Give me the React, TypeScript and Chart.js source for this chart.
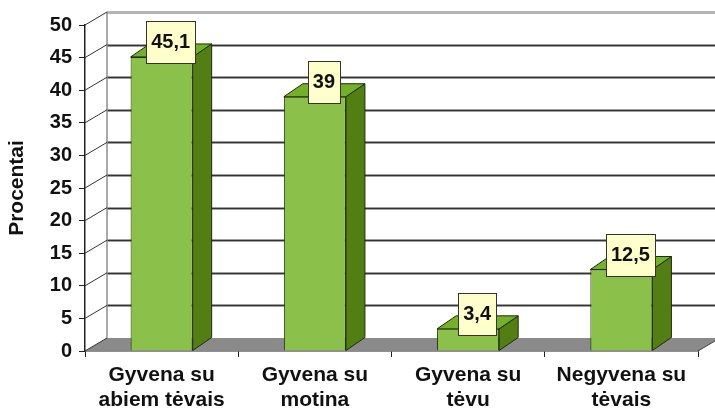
import React, { useEffect, useRef } from "react";
import { Chart, registerables } from "chart.js";

Chart.register(...registerables);

const categories: string[][] = [
  ["Gyvena su", "abiem tėvais"],
  ["Gyvena su", "motina"],
  ["Gyvena su", "tėvu"],
  ["Negyvena su", "tėvais"],
];
const values: number[] = [45.1, 39, 3.4, 12.5];
const yMin = 0;
const yMax = 50;
const yStep = 5;
const yTitle = "Procentai";

const FONT = '"Liberation Sans", Arial, Helvetica, sans-serif';
const WALL_DX = 22;
const WALL_DY = -13;
const BAR_DX = 19;
const BAR_DY = -13;

const fmt = (v: number) => String(v).replace(".", ",");

const threeD = {
  id: "threeD",
  beforeDatasetsDraw(chart: any) {
    const { ctx, chartArea, scales } = chart;
    const ys = scales.y;
    const L = chartArea.left;
    const R = chartArea.right;
    const B = ys.getPixelForValue(yMin);
    const W = chart.width;
    ctx.save();
    // floor
    ctx.fillStyle = "#8a8a8a";
    ctx.beginPath();
    ctx.moveTo(L, B);
    ctx.lineTo(R, B);
    ctx.lineTo(R + WALL_DX, B + WALL_DY);
    ctx.lineTo(L + WALL_DX, B + WALL_DY);
    ctx.closePath();
    ctx.fill();
    ctx.strokeStyle = "#444";
    ctx.lineWidth = 1;
    ctx.beginPath();
    ctx.moveTo(R, B);
    ctx.lineTo(R + WALL_DX, B + WALL_DY);
    ctx.stroke();
    // back wall grid lines
    for (let v = yMin + yStep; v <= yMax; v += yStep) {
      const py = Math.round(ys.getPixelForValue(v) + WALL_DY) + 0.5;
      ctx.strokeStyle = v === yMax ? "#b4b4b4" : "#a0a0a0";
      ctx.lineWidth = 3;
      ctx.beginPath();
      ctx.moveTo(L + WALL_DX, py);
      ctx.lineTo(W, py);
      ctx.stroke();
      if (v !== yMax) {
        ctx.strokeStyle = "#333";
        ctx.lineWidth = 1;
        ctx.beginPath();
        ctx.moveTo(L + WALL_DX, py);
        ctx.lineTo(W, py);
        ctx.stroke();
      }
    }
    // back wall left edge
    ctx.strokeStyle = "#8c8c8c";
    ctx.lineWidth = 1.5;
    ctx.beginPath();
    ctx.moveTo(L + WALL_DX, ys.getPixelForValue(yMax) + WALL_DY);
    ctx.lineTo(L + WALL_DX, B + WALL_DY);
    ctx.stroke();
    // side wall slanted lines
    ctx.strokeStyle = "#333";
    ctx.lineWidth = 1;
    for (let v = yMin; v <= yMax; v += yStep) {
      const py = ys.getPixelForValue(v);
      ctx.beginPath();
      ctx.moveTo(L, py);
      ctx.lineTo(L + WALL_DX, py + WALL_DY);
      ctx.stroke();
    }
    ctx.restore();
  },
  afterDatasetsDraw(chart: any) {
    const { ctx } = chart;
    const meta = chart.getDatasetMeta(0);
    ctx.save();
    meta.data.forEach((bar: any, i: number) => {
      const { x, y, base, width } = bar.getProps(["x", "y", "base", "width"], true);
      const l = x - width / 2;
      const r = x + width / 2;
      ctx.lineWidth = 1;
      ctx.strokeStyle = "#1e2c06";
      // side face
      ctx.fillStyle = "#527e14";
      ctx.beginPath();
      ctx.moveTo(r, y);
      ctx.lineTo(r + BAR_DX, y + BAR_DY);
      ctx.lineTo(r + BAR_DX, base + BAR_DY);
      ctx.lineTo(r, base);
      ctx.closePath();
      ctx.fill();
      ctx.stroke();
      // top face
      ctx.fillStyle = "#74b02a";
      ctx.beginPath();
      ctx.moveTo(l, y);
      ctx.lineTo(l + BAR_DX, y + BAR_DY);
      ctx.lineTo(r + BAR_DX, y + BAR_DY);
      ctx.lineTo(r, y);
      ctx.closePath();
      ctx.fill();
      ctx.stroke();
      // value label box
      const txt = fmt(values[i]);
      ctx.font = `bold 20px ${FONT}`;
      const tw = ctx.measureText(txt).width;
      const bw = Math.round(tw + 10);
      const bh = 42;
      const cx = x + 9;
      const cy = y - 15;
      const bx = Math.round(cx - bw / 2) + 0.5;
      const by = Math.round(cy - bh / 2) + 0.5;
      ctx.fillStyle = "#ffffcc";
      ctx.fillRect(bx, by, bw, bh);
      ctx.strokeStyle = "#333";
      ctx.strokeRect(bx, by, bw, bh);
      ctx.fillStyle = "#111";
      ctx.textAlign = "center";
      ctx.textBaseline = "middle";
      ctx.fillText(txt, cx, cy + 1);
    });
    ctx.restore();
  },
};

export default function App() {
  const ref = useRef<HTMLCanvasElement | null>(null);
  useEffect(() => {
    if (!ref.current) return;
    const chart = new Chart(ref.current, {
      type: "bar",
      data: {
        labels: categories,
        datasets: [
          {
            data: values,
            backgroundColor: "#8bc04a",
            borderColor: "#1e2c06",
            borderWidth: 1,
            barPercentage: 0.405,
            categoryPercentage: 1,
          },
        ],
      },
      options: {
        animation: false,
        responsive: false,
        layout: { padding: { top: 25, right: 17, left: 0, bottom: 0 } },
        plugins: { legend: { display: false }, tooltip: { enabled: false } },
        scales: {
          x: {
            z: 1,
            grid: { drawOnChartArea: false, drawTicks: true, tickLength: 6, color: "#222", offset: true },
            border: { display: true, color: "#222", width: 1.5 },
            ticks: {
              font: { family: FONT, size: 21, weight: "bold", lineHeight: "25px" },
              color: "#111",
              padding: 6,
              maxRotation: 0,
              autoSkip: false,
            },
            afterFit(s: any) {
              s.height = 63;
            },
          },
          y: {
            z: 1,
            min: yMin,
            max: yMax,
            ticks: {
              stepSize: yStep,
              font: { family: FONT, size: 20, weight: "bold" },
              color: "#111",
              padding: 7,
            },
            grid: { drawOnChartArea: false, drawTicks: true, tickLength: 6, color: "#222" },
            border: { display: true, color: "#222", width: 1.5 },
            title: {
              display: true,
              text: yTitle,
              font: { family: FONT, size: 21, weight: "bold" },
              color: "#111",
              padding: { top: 5, bottom: 0 },
            },
            afterFit(s: any) {
              s.width = 85;
            },
          },
        },
      } as any,
      plugins: [threeD],
    });
    return () => chart.destroy();
  }, []);
  return (
    <div style={{ position: "absolute", left: 0, top: 0, width: 715, height: 414, background: "#fff" }}>
      <canvas ref={ref} width={715} height={414} style={{ display: "block" }} />
    </div>
  );
}
